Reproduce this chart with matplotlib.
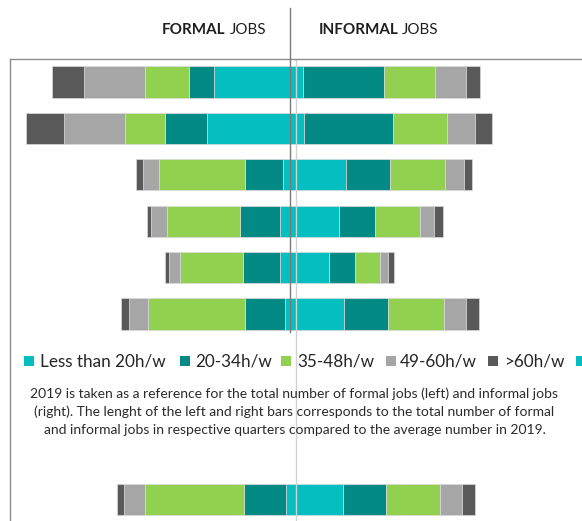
import matplotlib
matplotlib.use("Agg")
import matplotlib.pyplot as plt
from matplotlib.lines import Line2D
from matplotlib.patches import Rectangle
import numpy as np

# ---------------- data ----------------
rows = ["row 1", "row 2", "row 3", "row 4", "row 5", "row 6", "row 7"]
row_pos = [0, 1, 2, 3, 4, 5, 9]
hours = ["Less than 20h/w", "20-34h/w", "35-48h/w", "49-60h/w", ">60h/w"]
colors = ["#05BEC0", "#048A85", "#92D050", "#A6A6A6", "#595959"]

formal_lt20 = [81.7, 88.7, 13.0, 16.3, 15.7, 10.7, 10.0]
formal_20_34 = [25.3, 42.6, 38.3, 39.7, 37.3, 40.6, 42.0]
formal_35_48 = [43.7, 40.0, 85.4, 72.7, 63.3, 96.4, 98.7]
formal_49_60 = [61.3, 60.7, 16.3, 16.3, 10.4, 19.6, 21.3]
formal_gt60 = [32.3, 38.0, 7.0, 4.3, 4.3, 7.4, 7.0]

informal_lt20 = [6.7, 8.0, 50.0, 42.7, 32.7, 48.3, 46.7]
informal_20_34 = [81.6, 89.0, 44.0, 36.6, 26.6, 43.7, 43.3]
informal_35_48 = [51.0, 54.3, 55.3, 44.7, 24.4, 56.0, 53.7]
informal_49_60 = [30.7, 28.0, 18.7, 14.0, 8.6, 21.7, 22.3]
informal_gt60 = [14.0, 17.0, 8.3, 9.0, 6.0, 13.3, 13.3]

title_left = ("FORMAL", "JOBS")
title_right = ("INFORMAL", "JOBS")
note_lines = [
    "2019 is taken as a reference for the total number of formal jobs (left) and informal jobs",
    "(right). The lenght of the left and right bars corresponds to the total number of formal",
    "and informal jobs in respective quarters compared to the average number in 2019.",
]

# ---------------- figure ----------------
W, H = 582, 521
plt.rcParams["font.family"] = ["Lato", "DejaVu Sans"]
fig = plt.figure(figsize=(W / 100, H / 100), dpi=100)
fig.patch.set_facecolor("white")
renderer = fig.canvas.get_renderer()

ax = fig.add_axes([0, 0, 1, 1])
ax.set_xlim(-296, W - 296)
row_step = 46.4
first_center = 82
ax.set_ylim((H - first_center) / row_step, -first_center / row_step)
ax.axis("off")

formal = [formal_lt20, formal_20_34, formal_35_48, formal_49_60, formal_gt60]
informal = [informal_lt20, informal_20_34, informal_35_48, informal_49_60, informal_gt60]

bar_h = 0.67
cum_l = np.zeros(len(rows))
cum_r = np.zeros(len(rows))
for k in range(5):
    fv = np.array(formal[k])
    iv = np.array(informal[k])
    ax.barh(row_pos, -fv, left=-cum_l, height=bar_h, color=colors[k],
            edgecolor="#DADADA", linewidth=0.5, zorder=2)
    ax.barh(row_pos, iv, left=cum_r, height=bar_h, color=colors[k],
            edgecolor="#DADADA", linewidth=0.5, zorder=2)
    cum_l += fv
    cum_r += iv


def fx(x):
    return x / W


def fy(y):
    return 1 - y / H


# frame lines
fig.add_artist(Line2D([fx(9.5), 1], [fy(58.5), fy(58.5)], color="#8C8C8C", lw=1.0))
fig.add_artist(Line2D([fx(9.5), fx(9.5)], [fy(58.5), 0], color="#8C8C8C", lw=1.0))
# centre (zero) line and dark separator line
ax.axvline(0, ymin=0, ymax=fy(58.5), color="#D2D2D2", lw=1.0, zorder=3)
fig.add_artist(Line2D([fx(289.5), fx(289.5)], [fy(8), fy(332)], color="#7A7A7A", lw=1.0, zorder=4))


def fitted(x, y, s, target_w, ha="left", va="baseline", **kw):
    t = fig.text(fx(x), fy(y), s, fontsize=10, ha=ha, va=va, **kw)
    w = t.get_window_extent(renderer).width
    t.set_fontsize(10 * target_w / w)
    return t


def width_at10(s, **kw):
    t = fig.text(0, 0, s, fontsize=10, **kw)
    w = t.get_window_extent(renderer).width
    t.remove()
    return w


# titles: one common size, bold word left-aligned, regular word right-aligned
tc = "#1E1E1E"
gap = 4.5
s_left = 10 * (266 - 161.7 - gap) / (width_at10(title_left[0], fontweight="bold") + width_at10(title_left[1]))
s_right = 10 * (438.3 - 318.3 - gap) / (width_at10(title_right[0], fontweight="bold") + width_at10(title_right[1]))
tsize = (s_left + s_right) / 2
fig.text(fx(161.7), fy(33.5), title_left[0], fontsize=tsize, fontweight="bold", ha="left", va="baseline", color=tc)
fig.text(fx(266), fy(33.5), title_left[1], fontsize=tsize, ha="right", va="baseline", color=tc)
fig.text(fx(318.3), fy(33.5), title_right[0], fontsize=tsize, fontweight="bold", ha="left", va="baseline", color=tc)
fig.text(fx(438.3), fy(33.5), title_right[1], fontsize=tsize, ha="right", va="baseline", color=tc)

# legend (manual, to reproduce the cropped layout)
leg_text_x = [40, 195, 297.4, 399.6, 503.7]
leg_sq_x = [24, 180, 281, 386, 488, 576]
leg_colors = colors + [colors[0]]
lt = fitted(leg_text_x[0], 366.5, hours[0], 125.7, color="#262626")
lsize = lt.get_fontsize()
for i in range(1, 5):
    fig.text(fx(leg_text_x[i]), fy(366.5), hours[i], fontsize=lsize,
             ha="left", va="baseline", color="#262626")
for i, xs in enumerate(leg_sq_x):
    fig.add_artist(Rectangle((fx(xs), fy(366)), 10 / W, 10 / H,
                             facecolor=leg_colors[i], edgecolor="none"))

# note text
n1 = fitted(294.5, 398.5, note_lines[0], 526, ha="center", color="#2B2B2B")
nsize = n1.get_fontsize()
for line, yb in zip(note_lines[1:], [416, 433.7]):
    fig.text(fx(294.5), fy(yb), line, fontsize=nsize, ha="center", va="baseline", color="#2B2B2B")

fig.savefig("out.png", dpi=100, facecolor="white")
